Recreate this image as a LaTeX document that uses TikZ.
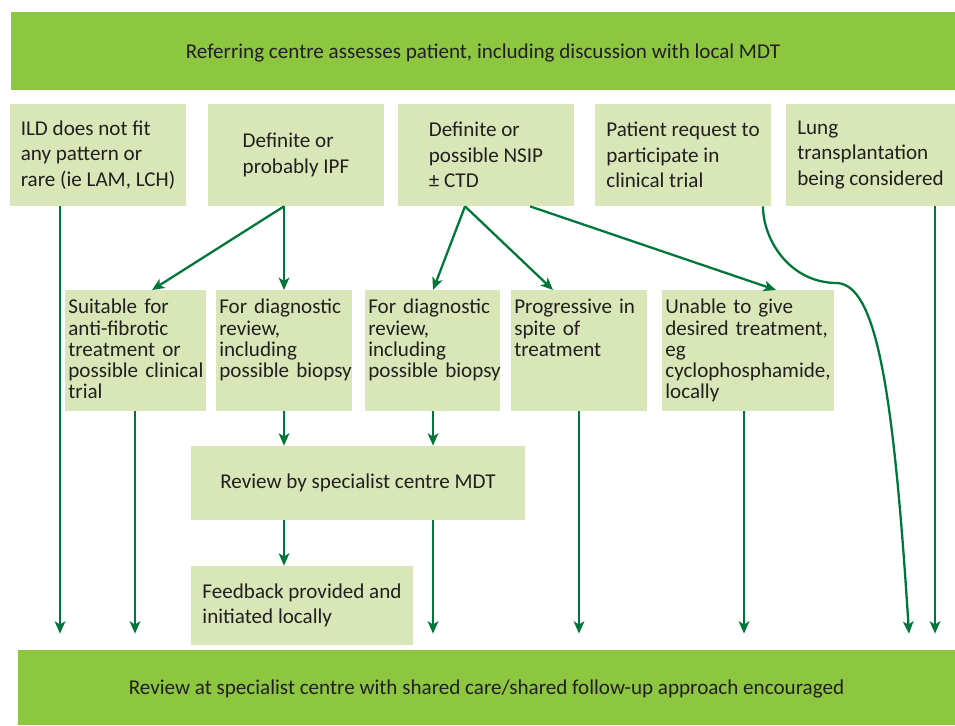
\documentclass[tikz,border=0pt]{standalone}
\usepackage{fontspec}
\setmainfont{Carlito}
\usetikzlibrary{arrows.meta}
\hyphenpenalty=10000
\definecolor{barGreen}{HTML}{8DC63F}
\definecolor{boxGreen}{HTML}{D9E7B8}
\definecolor{arrowGreen}{HTML}{00773A}
\definecolor{inkGray}{HTML}{231F20}
\tikzset{
  bar/.style={fill=barGreen, text=inkGray, inner sep=0pt, text depth=0pt, minimum height=1.56cm, font=\fontsize{12}{14.5}\selectfont},
  cbox/.style={fill=boxGreen, text=inkGray, align=left, inner sep=0pt, minimum width=3.52cm, minimum height=2.04cm, font=\fontsize{12}{14.5}\selectfont},
  tbox/.style={fill=boxGreen, text=inkGray, anchor=north west, align=left, inner xsep=1.7pt, inner ysep=4.4pt, text height=9pt, text depth=50.8pt, font=\fontsize{12}{12.1}\selectfont},
  arr/.style={draw=arrowGreen, line width=1.3pt, -{Stealth[length=7pt,width=6pt,inset=1.8pt]}},
  tobar/.style={arr, shorten >=0.32cm}
}
\begin{document}
\begin{tikzpicture}[scale=0.2]
	\useasboundingbox (0,0) rectangle (95.5,-72.5);
	% bars
	\node [bar, minimum width=18.88cm] (top) at (48.3,-5.1) {Referring centre assesses patient, including discussion with local MDT};
	\node [bar, minimum width=18.74cm, minimum height=1.5cm] (bot) at (48.65,-68.75) {Review at specialist centre with shared care/shared follow-up approach encouraged};
	% first row
	\node [cbox] (ild) at (9.8,-15.5) {ILD does not fit\\any pattern or\\rare (ie LAM, LCH)};
	\node [cbox] (ipf) at (29.6,-15.5) {Definite or\\probably IPF};
	\node [cbox] (nsip) at (48.6,-15.5) {Definite or\\possible NSIP\\± CTD};
	\node [cbox] (trial) at (68.3,-15.5) {Patient request to\\participate in\\clinical trial};
	\node [cbox, minimum width=3.38cm] (lung) at (87.05,-15.5) {Lung\\transplantation\\being considered};
	% second row
	\node [tbox, text width=76.6pt] (fit) at (6.5,-29.0) {Suitable for\\anti-fibrotic\\treatment or\\possible~clinical\\trial};
	\node [tbox, text width=73.7pt] (ipfdiag) at (21.6,-29.0) {For diagnostic\\review,\\including\\possible~biopsy};
	\node [tbox, text width=73.2pt] (nsipdiag) at (36.5,-29.0) {For diagnostic\\review,\\including\\possible~biopsy};
	\node [tbox, text width=73.7pt] (prog) at (51.1,-29.0) {Progressive in\\spite of\\treatment};
	\node [tbox, text width=94.2pt] (unable) at (66.2,-29.0) {Unable to give\\desired~treatment,\\eg\\cyclophosphamide,\\locally};
	% specialist centre
	\node [cbox, minimum width=6.68cm, minimum height=1.48cm] (mdt) at (35.8,-48.3) {Review by specialist centre MDT};
	\node [cbox, minimum width=4.44cm, minimum height=1.58cm] (feedback) at (30.2,-60.55) {Feedback provided and\\initiated locally};
	% arrows
	\draw [arr] (ipf.south -| 28.4,0) -- (fit.north -| 15.2,0);
	\draw [arr] (ipf.south -| 28.4,0) -- (ipfdiag.north -| 28.4,0);
	\draw [arr] (nsip.south -| 46.5,0) -- (nsipdiag.north -| 43.3,0);
	\draw [arr] (nsip.south -| 46.5,0) -- (prog.north -| 55.3,0);
	\draw [arr] (nsip.south -| 53.0,0) -- (unable.north -| 77.6,0);
	\draw [arr] (ipfdiag.south -| 28.4,0) -- (mdt.north -| 28.4,0);
	\draw [arr] (nsipdiag.south -| 43.3,0) -- (mdt.north -| 43.3,0);
	\draw [arr] (mdt.south -| 28.4,0) -- (feedback.north -| 28.4,0);
	\foreach \n/\x in {ild/6.0, fit/13.5, mdt/43.3, prog/57.9, unable/74.4, lung/93.5}
		\draw [tobar] (\n.south -| \x,0) -- (bot.north -| \x,0);
	\draw [tobar] (trial.south -| 76.3,0) .. controls (76.3,-24.0) and (79.0,-28.3) .. (83.7,-28.3)
		.. controls (87.5,-28.5) and (89.3,-38.0) .. (bot.north -| 91.0,0);
\end{tikzpicture}
\end{document}
